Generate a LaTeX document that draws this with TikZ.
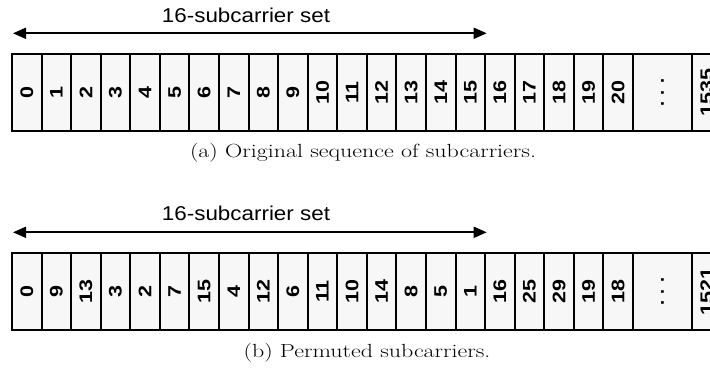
\documentclass[tikz,border=0pt]{standalone}
\usepackage{fontspec}
\newfontfamily\arialfont{Liberation Sans}
\usetikzlibrary{arrows.meta}
\def\cw{29.57}
% rotated cell label, widened along the reading direction
\newcommand\celltext[1]{\rotatebox{90}{\scalebox{1.18}[1]{#1}}}
\tikzset{
  cell/.style={draw=black, line width=2pt, fill=gray!6, minimum width=\cw pt,
    minimum height=77pt, inner sep=0pt,
    font=\arialfont\bfseries\fontsize{18.2}{18.2}\selectfont},
  settitle/.style={anchor=base, inner sep=0pt,
    font=\arialfont\fontsize{20}{20}\selectfont},
  capt/.style={anchor=base, inner sep=0pt, font=\fontsize{19}{19}\selectfont},
  span/.style={line width=1.8pt,
    {Triangle[length=13pt,width=11pt]}-{Triangle[length=13pt,width=11pt]}}
}
\begin{document}
\begin{tikzpicture}[x=1pt,y=-1pt]
\useasboundingbox (0,0) rectangle (710,369);
\clip (0,0) rectangle (710,369);

% ---- (a) original order ----
\node[settitle] (ta) at (246,22.7) {\scalebox{1.12}[1]{16-subcarrier set}};
\coordinate (aL) at (13,33.3);
\coordinate (aR) at (486.7,33.3);
\draw[span] (aL) -- (aR);
\foreach \t [count=\i from 0] in {0,1,...,20}
  \node[cell] (a\i) at ({12+(\i+0.5)*\cw},92.5) {\celltext{\t}};
\node[cell, minimum width={2*\cw pt}] (adots) at ({12+22*\cw},92.5)
  {\rotatebox{90}{.\hspace{6pt}.\hspace{6pt}.}};
\node[cell] (alast) at ({12+23.5*\cw},92.5) {\celltext{1535}};
\node[capt] (ca) at (363,157.2)
  {\scalebox{1.26}[1]{(a) Original sequence of subcarriers.}};

% ---- (b) permuted order ----
\node[settitle] (tb) at (246,220) {\scalebox{1.12}[1]{16-subcarrier set}};
\coordinate (bL) at (13,232.3);
\coordinate (bR) at (486.7,232.3);
\draw[span] (bL) -- (bR);
\foreach \t [count=\i from 0] in {0,9,13,3,2,7,15,4,12,6,11,10,14,8,5,1,16,25,29,19,18}
  \node[cell] (b\i) at ({12+(\i+0.5)*\cw},291.5) {\celltext{\t}};
\node[cell, minimum width={2*\cw pt}] (bdots) at ({12+22*\cw},291.5)
  {\rotatebox{90}{.\hspace{6pt}.\hspace{6pt}.}};
\node[cell] (blast) at ({12+23.5*\cw},291.5) {\celltext{1521}};
\node[capt] (cb) at (367,357.5)
  {\scalebox{1.26}[1]{(b) Permuted subcarriers.}};
\end{tikzpicture}
\end{document}
